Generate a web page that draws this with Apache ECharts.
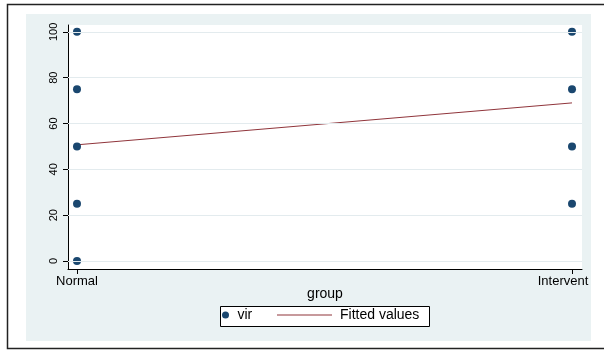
<!DOCTYPE html>
<html>
<head>
<meta charset="utf-8">
<script src="https://cdn.jsdelivr.net/npm/echarts@6/dist/echarts.min.js"></script>
<style>
  html, body { margin: 0; padding: 0; background: #fff; }
  #chart { width: 604px; height: 350px; }
</style>
</head>
<body>
<div id="chart"></div>
<script>
// Groups placed at x = 0 and x = 1
const groups = ['Normal', 'Intervent'];
// vir scores observed in each group
const virNormal = [0, 25, 50, 75, 100];
const virIntervent = [25, 50, 75, 100];
// Linear fit of vir on group, evaluated at both groups
const fitted = [50.7, 69.0];
// Y axis ticks
const yTicks = [0, 20, 40, 60, 80, 100];

const NAVY = '#1a476f';
const MAROON = '#90353b';
const FONT = '"Liberation Sans", Arial, sans-serif';

const virData = virNormal.map(v => [0, v]).concat(virIntervent.map(v => [1, v]));
const fitData = fitted.map((v, i) => [i, v]);

const chart = echarts.init(document.getElementById('chart'), null, { renderer: 'canvas' });

chart.setOption({
  backgroundColor: '#ffffff',
  animation: false,
  textStyle: { fontFamily: FONT },
  graphic: [
    { type: 'rect', z: -100, shape: { x: 7.5, y: 4.5, width: 620, height: 344 },
      style: { fill: '#ffffff', stroke: '#222', lineWidth: 1.5 } },
    { type: 'rect', z: -90, shape: { x: 26, y: 14, width: 565, height: 327 },
      style: { fill: '#eaf2f3' } },
    { type: 'rect', z: 3, shape: { x: 220.5, y: 306.5, width: 209, height: 20 },
      style: { fill: '#ffffff', stroke: '#000', lineWidth: 1 } }
  ],
  grid: {
    left: 68, right: 22, top: 25, height: 244,
    show: true, backgroundColor: '#ffffff', borderWidth: 0
  },
  xAxis: {
    type: 'value',
    min: -0.01818, max: 1.0202,
    name: 'group', nameLocation: 'middle', nameGap: 18, nameMoveOverlap: false,
    nameTextStyle: { fontSize: 14, color: '#000', fontFamily: FONT },
    axisLine: { show: true, onZero: false, lineStyle: { color: '#000', width: 1 } },
    axisTick: { show: true, length: 5, customValues: [0, 1], lineStyle: { color: '#000' } },
    axisLabel: {
      customValues: [0, 1], margin: 6, fontSize: 13, color: '#000', fontFamily: FONT,
      formatter: v => (v === 1 ? '{r|' + groups[1] + '}' : groups[0]),
      rich: { r: { fontSize: 13, color: '#000', fontFamily: FONT, padding: [0, 18, 0, 0] } }
    },
    splitLine: { show: false }
  },
  yAxis: {
    type: 'value',
    min: -3.5, max: 103,
    axisLine: { show: true, onZero: false, lineStyle: { color: '#000', width: 1 } },
    axisTick: { show: true, length: 5, customValues: yTicks, lineStyle: { color: '#000' } },
    axisLabel: { customValues: yTicks, rotate: 90, margin: 9, fontSize: 11, color: '#000', fontFamily: FONT },
    splitLine: { show: false }
  },
  legend: [
    {
      data: [{ name: 'vir', icon: 'circle' }],
      left: 222, top: 308, padding: 0,
      itemWidth: 14, itemHeight: 7,
      textStyle: { fontSize: 14, color: '#000', fontFamily: FONT },
      selectedMode: false, z: 5
    },
    {
      data: [{ name: 'Fitted values', icon: 'rect' }],
      left: 277, top: 308, padding: 0,
      itemWidth: 55, itemHeight: 1,
      textStyle: { fontSize: 14, color: '#000', fontFamily: FONT, padding: [0, 0, 0, 3] },
      selectedMode: false, z: 5
    }
  ],
  series: [
    {
      name: 'gridlines', type: 'line', data: [], silent: true, z: 1,
      markLine: {
        silent: true, symbol: 'none', label: { show: false },
        lineStyle: { color: '#e3ebee', width: 1, type: 'solid' },
        data: yTicks.map(v => ({ yAxis: v }))
      }
    },
    {
      name: 'vir', type: 'scatter', data: virData,
      symbol: 'circle', symbolSize: 8, z: 3,
      itemStyle: { color: NAVY, opacity: 1 }
    },
    {
      name: 'Fitted values', type: 'line', data: fitData,
      showSymbol: false, symbol: 'none', z: 2,
      lineStyle: { color: MAROON, width: 1 },
      itemStyle: { color: MAROON }
    }
  ]
});
</script>
</body>
</html>
